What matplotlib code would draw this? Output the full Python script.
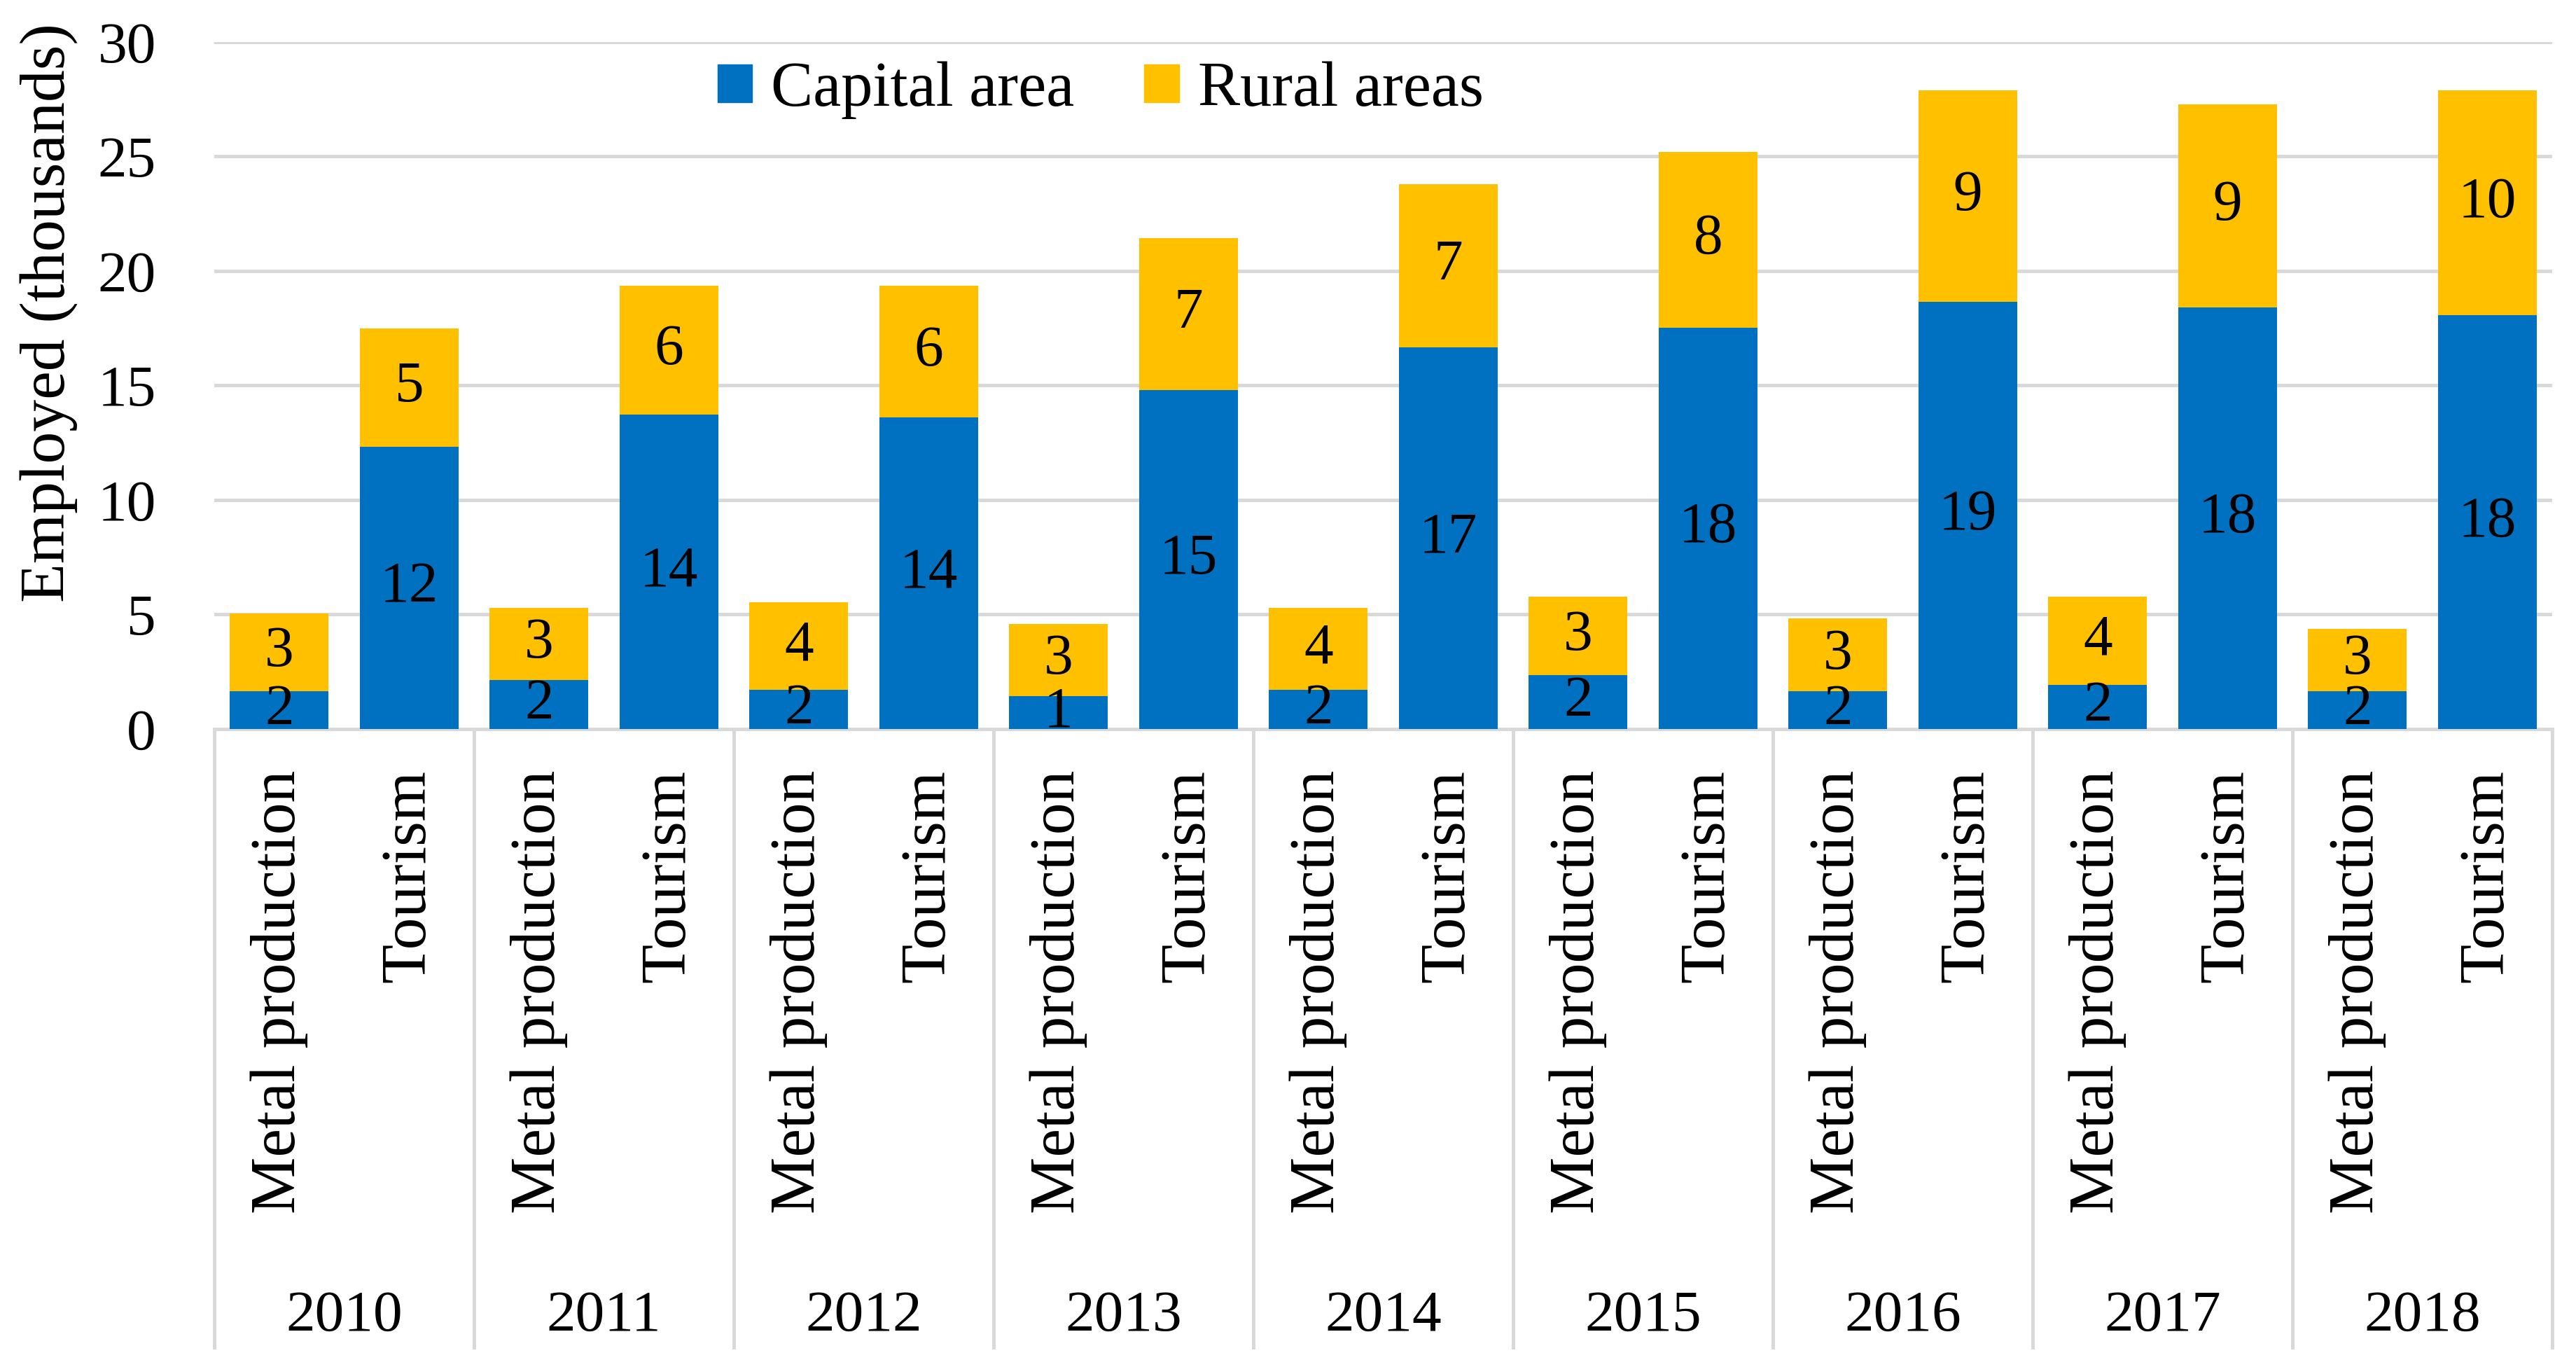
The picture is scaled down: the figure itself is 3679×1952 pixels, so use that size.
import matplotlib
matplotlib.use("Agg")
import matplotlib.pyplot as plt
import matplotlib.transforms as mtransforms
from matplotlib.patches import Patch
import numpy as np

# data (thousands employed)
years = ["2010", "2011", "2012", "2013", "2014", "2015", "2016", "2017", "2018"]
sectors = ["Metal production", "Tourism"]
capital_metal = [1.65, 2.13, 1.70, 1.44, 1.70, 2.36, 1.65, 1.93, 1.65]
rural_metal = [3.40, 3.17, 3.84, 3.16, 3.58, 3.42, 3.18, 3.85, 2.73]
capital_tourism = [12.33, 13.74, 13.61, 14.80, 16.66, 17.52, 18.64, 18.40, 18.06]
rural_tourism = [5.15, 5.61, 5.74, 6.65, 7.13, 7.69, 9.25, 8.89, 9.83]
series_names = ["Capital area", "Rural areas"]

BLUE = "#0070C0"
YELLOW = "#FFC000"
GRID = "#D9D9D9"
FONT = "Liberation Serif"

plt.rcParams["font.family"] = [FONT, "DejaVu Serif"]

# interleave metal / tourism for each year
capital = []
rural = []
labels = []
for i in range(len(years)):
	capital.extend([capital_metal[i], capital_tourism[i]])
	rural.extend([rural_metal[i], rural_tourism[i]])
	labels.extend(sectors)
capital = np.array(capital)
rural = np.array(rural)
x = np.arange(len(capital))

fig = plt.figure(figsize=(36.79, 19.52), dpi=100)
ax = fig.add_axes([0.0832, 0.4667, 0.9076, 0.5026])

ax.bar(x, capital, width=0.76, color=BLUE, zorder=3)
ax.bar(x, rural, width=0.76, bottom=capital, color=YELLOW, zorder=3)

# data labels in the middle of each segment
for i in range(len(x)):
	ax.text(x[i], capital[i] / 2, str(int(round(capital[i]))), ha="center", va="center",
		fontsize=60, color="black", zorder=5, clip_on=False)
	ax.text(x[i], capital[i] + rural[i] / 2, str(int(round(rural[i]))), ha="center", va="center",
		fontsize=60, color="black", zorder=5, clip_on=False)

ax.set_ylim(0, 30)
ax.set_xlim(-0.5, len(x) - 0.5)
ax.set_yticks(range(0, 31, 5))
ax.tick_params(axis="y", length=0, pad=60, labelsize=60)
ax.yaxis.grid(True, color=GRID, linewidth=3.6, zorder=0)
ax.set_axisbelow(True)

ax.set_xticks(x)
ax.set_xticklabels(labels, rotation=90, va="top", ha="center", fontsize=66)
ax.tick_params(axis="x", length=0, pad=42)

for s in ["top", "right", "left"]:
	ax.spines[s].set_visible(False)
ax.spines["bottom"].set_color(GRID)
ax.spines["bottom"].set_linewidth(3.6)

# group separators and year labels below the axis
trans = mtransforms.blended_transform_factory(ax.transData, ax.transAxes)
for k in range(len(years) + 1):
	xs = 2 * k - 0.5
	ax.plot([xs, xs], [0, -0.9], transform=trans, color=GRID, linewidth=3.6, clip_on=False)
for k in range(len(years)):
	ax.text(2 * k + 0.5, -0.855, years[k], transform=trans, ha="center", va="center", fontsize=60)

fig.text(0.0188, 0.771, "Employed (thousands)", rotation=90, ha="center", va="center", fontsize=66)

handles = [Patch(color=BLUE, label=series_names[0]), Patch(color=YELLOW, label=series_names[1])]
ax.legend(handles=handles, loc="center", bbox_to_anchor=(0.379, 0.93), ncol=2, frameon=False,
	fontsize=65, handlelength=0.55, handleheight=0.55, handletextpad=0.3, columnspacing=1.1,
	borderpad=0, borderaxespad=0)

fig.savefig("out.png", dpi=100, facecolor="white")
